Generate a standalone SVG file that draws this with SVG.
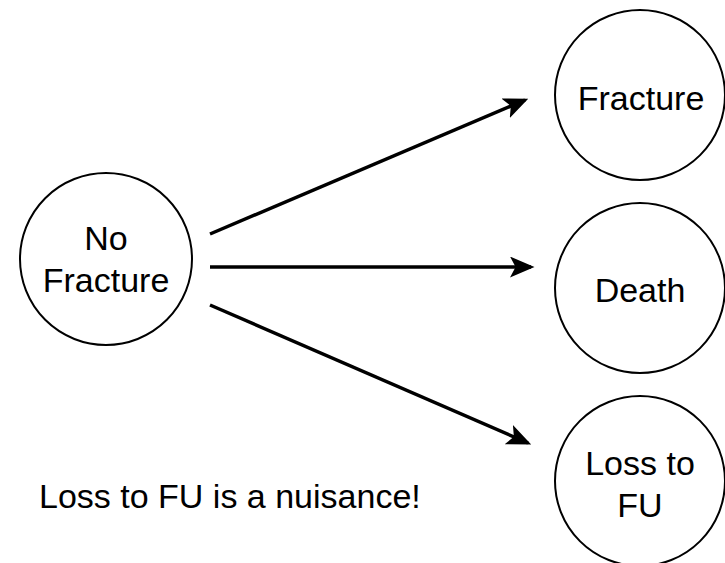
<svg xmlns="http://www.w3.org/2000/svg" width="725" height="563" viewBox="0 0 725 563">
<style>
.node{fill:#fff;stroke:#000;stroke-width:2}
.lbl{font-family:"Liberation Sans",Arial,sans-serif;font-size:34px;fill:#000;text-anchor:middle}
.edge{stroke:#000;stroke-width:3.5;fill:none}
</style>
<defs>
<marker id="ah" markerWidth="7" markerHeight="6" refX="6" refY="3" orient="auto" markerUnits="strokeWidth">
<path d="M0,0 L7,3 L0,6 L1.6,3 Z" fill="#000"/>
</marker>
</defs>
<rect width="725" height="563" fill="#fff"/>
<g id="connectors">
<line class="edge" x1="210" y1="234" x2="525" y2="100" marker-end="url(#ah)"/>
<line class="edge" x1="210" y1="267" x2="531" y2="267" marker-end="url(#ah)"/>
<line class="edge" x1="210" y1="305" x2="528" y2="443" marker-end="url(#ah)"/>
</g>
<g id="no-fracture">
<circle class="node" cx="106" cy="259" r="86"/>
<text class="lbl" x="106" y="250">No</text>
<text class="lbl" x="106" y="292">Fracture</text>
</g>
<g id="fracture">
<circle class="node" cx="640" cy="95" r="85"/>
<text class="lbl" x="641" y="110">Fracture</text>
</g>
<g id="death">
<circle class="node" cx="640" cy="288" r="85"/>
<text class="lbl" x="640" y="302">Death</text>
</g>
<g id="loss-to-fu">
<circle class="node" cx="640" cy="481" r="85"/>
<text class="lbl" x="640" y="475">Loss to</text>
<text class="lbl" x="640" y="517">FU</text>
</g>
<text class="lbl" x="39" y="508" style="text-anchor:start">Loss to FU is a nuisance!</text>
</svg>
